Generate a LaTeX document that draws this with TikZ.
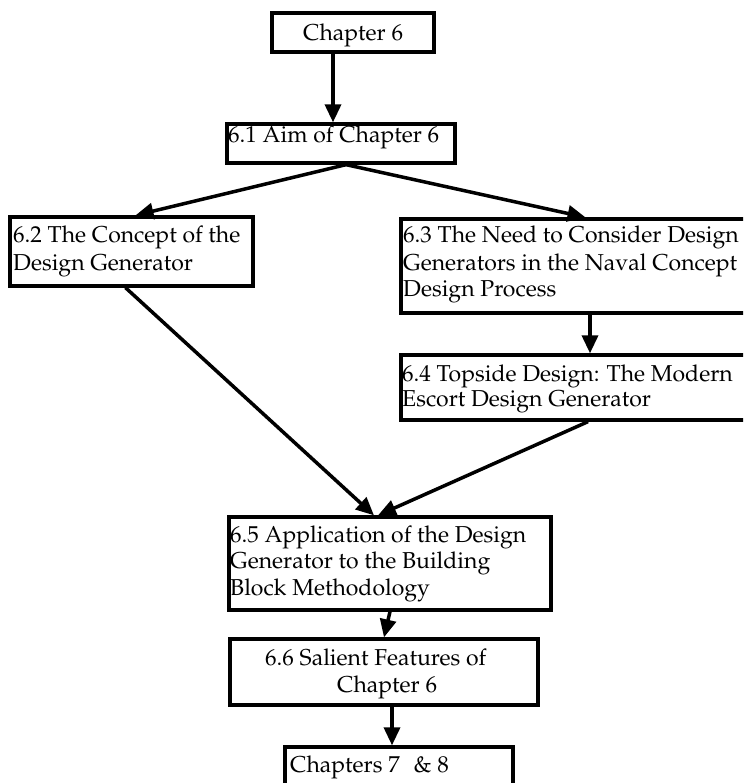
\documentclass[tikz,border=0pt]{standalone}
\usepackage[T1]{fontenc}
\usepackage{palatino}
\usetikzlibrary{arrows.meta}
\begin{document}
\begin{tikzpicture}[x=1pt,y=-1pt,
  box/.style={draw=black, line width=3.3pt, inner sep=0pt, rectangle},
  lbl/.style={anchor=base west, inner sep=0pt, font=\fontsize{23}{26}\selectfont},
  arr/.style={line width=3.5pt, -{Triangle[length=18pt,width=16pt]}}]
\useasboundingbox (0,0) rectangle (743,783);
\clip (0,0) rectangle (743,783);
\fill[white] (0,0) rectangle (743,783);

% section boxes
\node[box, minimum width=162pt, minimum height=39pt] (c6)  at (353,32.5)   {};
\node[box, minimum width=228pt, minimum height=39pt] (s61) at (341,143.5)  {};
\node[box, minimum width=243pt, minimum height=69pt] (s62) at (131.5,251.5) {};
\node[box, minimum width=349pt, minimum height=94pt] (s63) at (575.5,266)  {};
\node[box, minimum width=349pt, minimum height=65pt] (s64) at (575.5,387.5) {};
\node[box, minimum width=322pt, minimum height=93pt] (s65) at (390,563.5)  {};
\node[box, minimum width=308pt, minimum height=66pt] (s66) at (384,672)    {};
\node[box, minimum width=228pt, minimum height=53pt] (c78) at (399,773.5)  {};

% box texts
\node[lbl] (t6)   at (303,41)  {Chapter 6};
\node[lbl] (t61)  at (228,143) {6.1 Aim of Chapter 6};
\node[lbl] (t62a) at (13,243)  {6.2 The Concept of the};
\node[lbl] (t62b) at (13,270)  {Design Generator};
\node[lbl] (t63a) at (403,243) {6.3 The Need to Consider Design};
\node[lbl] (t63b) at (403,270) {Generators in the Naval Concept};
\node[lbl] (t63c) at (403,296) {Design Process};
\node[lbl] (t64a) at (402,381) {6.4 Topside Design: The Modern};
\node[lbl] (t64b) at (402,406) {Escort Design Generator};
\node[lbl] (t65a) at (230,542) {6.5 Application of the Design};
\node[lbl] (t65b) at (230,568) {Generator to the Building};
\node[lbl] (t65c) at (230,595) {Block Methodology};
\node[lbl] (t66a) at (265,665) {6.6 Salient Features of};
\node[lbl] (t66b) at (337,692) {Chapter 6};
\node[lbl] (t78)  at (290,772) {Chapters 7\hspace{0.6em}\& 8};

% connectors
\draw[arr] ([xshift=-20pt]c6.south) -- ([xshift=-20pt]c6.south |- s61.north);
\draw[arr] ([xshift=5pt]s61.south) -- ([xshift=4pt]s62.north);
\draw[arr] ([xshift=5pt]s61.south) -- ([xshift=10pt]s63.north);
\draw[arr] ([xshift=14.5pt]s63.south) -- ([xshift=14.5pt]s64.north);
\draw[arr] ([xshift=-6pt]s62.south) -- ([xshift=-16pt]s65.north);
\draw[arr] ([xshift=12.5pt]s64.south) -- ([xshift=-12pt]s65.north);
\draw[arr] (s65.south) -- (s66.north);
\draw[arr] ([xshift=8pt]s66.south) -- ([xshift=8pt]s66.south |- c78.north);
\end{tikzpicture}
\end{document}
